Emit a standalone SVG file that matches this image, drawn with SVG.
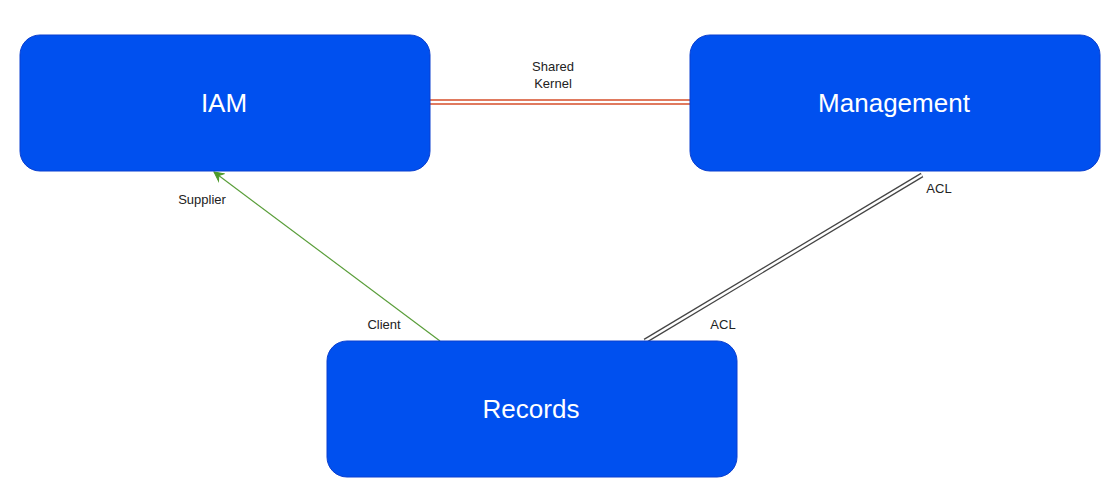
<svg xmlns="http://www.w3.org/2000/svg" width="1117" height="492" viewBox="0 0 1117 492">
<style>
.box{fill:#0050EF;stroke:#0A3FD0;stroke-width:1}
.bt{font-family:"Liberation Sans",Arial,sans-serif;font-size:26px;fill:#ffffff;text-anchor:middle;dominant-baseline:central}
.lb{font-family:"Liberation Sans",Arial,sans-serif;font-size:13px;fill:#222222;text-anchor:middle;dominant-baseline:central}
</style>
<defs>
<marker id="arr" markerWidth="12" markerHeight="12" refX="10" refY="6" orient="auto" markerUnits="userSpaceOnUse">
<path d="M1,1.5 L10,6 L1,10.5 L4,6 Z" fill="#4D9A2A" stroke="#4D9A2A" stroke-width="1"/>
</marker>
</defs>
<rect width="1117" height="492" fill="#ffffff"/>
<g id="connectors">
<line x1="430" y1="102" x2="690" y2="102" stroke="#E07A5F" stroke-width="6"/>
<line x1="430" y1="102" x2="690" y2="102" stroke="#ffffff" stroke-width="2"/>
<line x1="440" y1="341" x2="214" y2="172" stroke="#5A9E3A" stroke-width="1.2" marker-end="url(#arr)"/>
<line x1="645" y1="341" x2="922" y2="175" stroke="#444444" stroke-width="5"/>
<line x1="645" y1="341" x2="922" y2="175" stroke="#ffffff" stroke-width="2.5"/>
</g>
<g id="iam">
<rect class="box" x="20" y="35" width="410" height="136" rx="20"/>
<text class="bt" x="224" y="103">IAM</text>
</g>
<g id="management">
<rect class="box" x="690" y="35" width="410" height="136" rx="20"/>
<text class="bt" x="894" y="103">Management</text>
</g>
<g id="records">
<rect class="box" x="327" y="341" width="410" height="136" rx="20"/>
<text class="bt" x="531" y="409">Records</text>
</g>
<g id="labels">
<text class="lb" x="553" y="66">Shared</text>
<text class="lb" x="553" y="83">Kernel</text>
<text class="lb" x="202" y="199">Supplier</text>
<text class="lb" x="384" y="324">Client</text>
<text class="lb" x="939" y="188">ACL</text>
<text class="lb" x="723" y="324">ACL</text>
</g>
</svg>
